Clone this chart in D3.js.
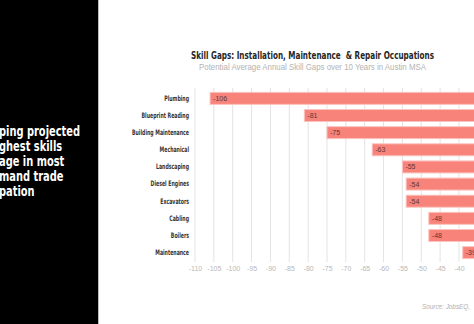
<!DOCTYPE html>
<html><head><meta charset="utf-8">
<script src="https://cdn.jsdelivr.net/npm/d3@7"></script>
<style>
html,body{margin:0;padding:0;background:#fff;overflow:hidden;}
svg{display:block;}
</style></head>
<body>
<svg id="c" width="474" height="324"></svg>
<script>
const categories = ["Plumbing","Blueprint Reading","Building Maintenance","Mechanical","Landscaping","Diesel Engines","Excavators","Cabling","Boilers","Maintenance"];
const values = [-106,-81,-75,-63,-55,-54,-54,-48,-48,-39];
const tickValues = [-110,-105,-100,-95,-90,-85,-80,-75,-70,-65,-60,-55,-50,-45,-40];
const gridValues = [-110,-105,-100,-95,-90,-85,-80,-75,-70,-65,-60,-55,-50,-45,-40,-35];
const sideLines = ["ping projected","ghest skills","age in most","mand trade","pation"];
const title = "Skill Gaps: Installation, Maintenance  & Repair Occupations";
const subtitle = "Potential Average Annual Skill Gaps over 10 Years in Austin MSA";
const source = "Source: JobsEQ,";

const svg = d3.select("#c");
const cond = "'DejaVu Sans Condensed','DejaVu Sans',sans-serif";

function squeeze(sel, factor){
  sel.each(function(){
    const w = this.getComputedTextLength();
    d3.select(this).attr("textLength", w*factor).attr("lengthAdjust","spacingAndGlyphs");
  });
}

// left black panel
svg.append("rect").attr("x",0).attr("y",0).attr("width",98).attr("height",324).attr("fill","#000");
svg.append("rect").attr("x",98).attr("y",0).attr("width",1).attr("height",324).attr("fill","#bdbdbd");
const side = svg.append("g").selectAll("text").data(sideLines).join("text")
  .attr("x",-1).attr("y",(d,i)=>135.5+i*15.2)
  .attr("fill","#fff").attr("font-family",cond).attr("font-stretch","condensed").attr("font-weight","bold").attr("font-size",14.5)
  .text(d=>d);
{
  const w0 = side.nodes()[0].getComputedTextLength();
  squeeze(side, 81/w0);
}

// titles
const t = svg.append("text").attr("x",312.5).attr("y",58.5).attr("text-anchor","middle")
  .attr("font-family",cond).attr("font-stretch","condensed").attr("font-weight","bold").attr("font-size",11).attr("fill","#262626")
  .attr("xml:space","preserve").style("white-space","pre").text(title);
squeeze(t, 243/t.node().getComputedTextLength());
const st = svg.append("text").attr("x",312.5).attr("y",70).attr("text-anchor","middle")
  .attr("font-family","'Liberation Sans',sans-serif").attr("font-size",9).attr("fill","#b3b3b3").text(subtitle);
squeeze(st, 227/st.node().getComputedTextLength());

const x = d3.scaleLinear().domain([-110,0]).range([195,195+110*3.771]);
const y = d3.scaleBand().domain(categories).range([89.8,261.2]).paddingInner(0.3).paddingOuter(0.15);

// gridlines
svg.append("g").selectAll("line").data(gridValues).join("line")
  .attr("x1",d=>x(d)).attr("x2",d=>x(d)).attr("y1",88).attr("y2",262)
  .attr("stroke","#e3e3e3").attr("stroke-width",1);

// axis labels
const xAxis = d3.axisBottom(x).tickValues(tickValues).tickSize(0).tickPadding(0).tickFormat(d=>String(d));
const ax = svg.append("g").attr("transform","translate(0,265)").call(xAxis);
ax.select(".domain").remove();
ax.selectAll("text").attr("fill","#b8b8b8").attr("font-family","'Liberation Sans',sans-serif").attr("font-size",7).attr("dy","0.9em");

// bars
svg.append("g").selectAll("rect").data(values).join("rect")
  .attr("x",d=>x(d)).attr("y",(d,i)=>y(categories[i]))
  .attr("width",d=>x(0)-x(d)).attr("height",y.bandwidth())
  .attr("fill","#f8837b").attr("stroke","#fbc3bf").attr("stroke-width",1);

// bar labels
svg.append("g").selectAll("text").data(values).join("text")
  .attr("x",d=>x(d)+3).attr("y",(d,i)=>y(categories[i])+y.bandwidth()/2)
  .attr("dy","0.35em").attr("font-family","'Liberation Sans',sans-serif").attr("font-size",7).attr("fill","#5a3a38")
  .text(d=>d);

// category labels
const yAxis = d3.axisLeft(y).tickSize(0).tickPadding(0);
const ay = svg.append("g").attr("transform","translate(189,0)").call(yAxis);
ay.select(".domain").remove();
const catText = ay.selectAll("text").attr("fill","#333").attr("font-family",cond).attr("font-stretch","condensed").attr("font-weight","bold").attr("font-size",7.5);
{
  const bm = catText.filter(d=>d==="Building Maintenance").node();
  squeeze(catText, 57/bm.getComputedTextLength());
}

// source
const src = svg.append("text").attr("x",422).attr("y",308.5)
  .attr("font-family","'Liberation Sans',sans-serif").attr("font-style","italic").attr("font-size",8).attr("fill","#b0b0b0").text(source);
squeeze(src, 48/src.node().getComputedTextLength());
</script>
</body></html>
